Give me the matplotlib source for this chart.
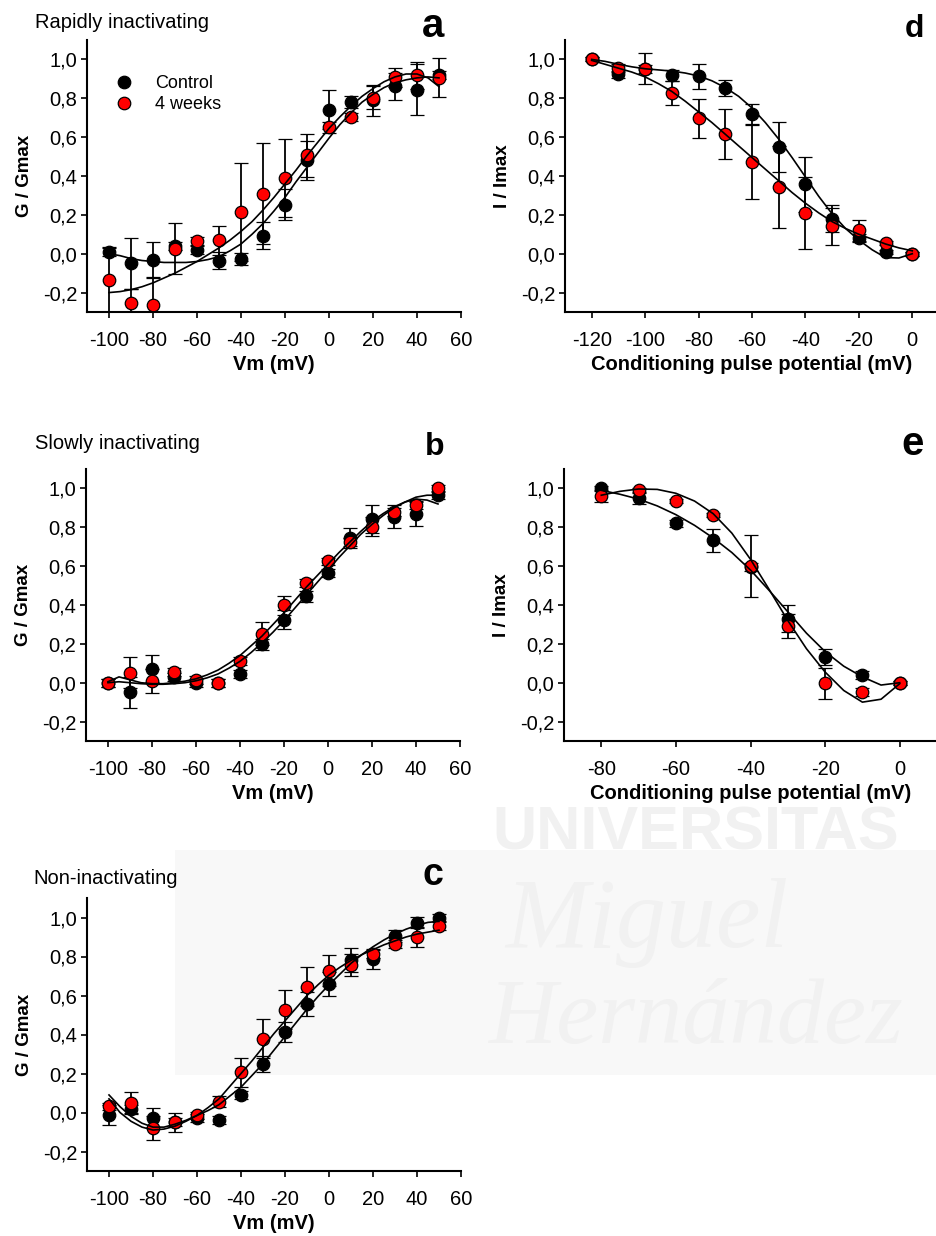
import numpy as np
import matplotlib
matplotlib.use("Agg")
import matplotlib.pyplot as plt
from matplotlib.lines import Line2D
from matplotlib.patches import Rectangle

plt.rcParams['font.family'] = ['Liberation Sans', 'DejaVu Sans']

# ---------------- data ----------------
# panel a : rapidly inactivating, activation (G/Gmax vs Vm)
a_v = [-100, -90, -80, -70, -60, -50, -40, -30, -20, -10, 0, 10, 20, 30, 40, 50]
a_ctrl = [0.01, -0.05, -0.03, 0.04, 0.02, -0.036, -0.026, 0.093, 0.253, 0.481, 0.742, 0.782, 0.79, 0.862, 0.845, 0.92]
a_ctrl_err = [0.02, 0.13, 0.09, 0.02, 0.02, 0.045, 0.03, 0.07, 0.08, 0.10, 0.10, 0.03, 0.08, 0.07, 0.13, 0.02]
a_wk4 = [-0.135, -0.253, -0.266, 0.026, 0.064, 0.069, 0.215, 0.309, 0.39, 0.507, 0.65, 0.704, 0.804, 0.907, 0.919, 0.905]
a_wk4_err = [0.17, 0.07, 0.14, 0.13, 0.02, 0.075, 0.25, 0.26, 0.2, 0.11, 0.03, 0.02, 0.06, 0.05, 0.07, 0.10]
a_fit_v = list(range(-100, 55, 5))
a_fit_ctrl = [0.0, -0.01, -0.025, -0.035, -0.04, -0.045, -0.045, -0.045, -0.04, -0.03, -0.015, 0.015,
              0.05, 0.10, 0.155, 0.22, 0.29, 0.37, 0.445, 0.52, 0.595, 0.665, 0.725, 0.78, 0.82,
              0.855, 0.88, 0.895, 0.905, 0.91, 0.905]
a_fit_wk4 = [-0.20, -0.195, -0.185, -0.17, -0.15, -0.125, -0.10, -0.07, -0.04, -0.005, 0.03, 0.07,
             0.115, 0.165, 0.225, 0.29, 0.36, 0.43, 0.505, 0.575, 0.645, 0.705, 0.76, 0.81, 0.85,
             0.885, 0.91, 0.925, 0.925, 0.905, 0.86]

# panel b : slowly inactivating
b_v = a_v
b_ctrl = [0.0, -0.05, 0.073, 0.03, -0.003, 0.0, 0.044, 0.197, 0.325, 0.444, 0.564, 0.744, 0.843, 0.855, 0.868, 0.966]
b_ctrl_err = [0.02, 0.08, 0.07, 0.02, 0.02, 0.02, 0.02, 0.03, 0.05, 0.03, 0.02, 0.05, 0.07, 0.06, 0.06, 0.02]
b_wk4 = [-0.003, 0.051, 0.009, 0.056, 0.014, 0.0, 0.111, 0.253, 0.398, 0.515, 0.624, 0.723, 0.803, 0.88, 0.915, 1.0]
b_wk4_err = [0.02, 0.08, 0.06, 0.02, 0.02, 0.02, 0.02, 0.06, 0.05, 0.02, 0.02, 0.02, 0.05, 0.02, 0.02, 0.02]
b_fit_v = a_fit_v
b_fit_ctrl = [0.0, 0.005, 0.0, -0.005, -0.008, -0.008, -0.005, 0.0, 0.01, 0.025, 0.045, 0.075, 0.11,
              0.155, 0.205, 0.26, 0.32, 0.385, 0.45, 0.515, 0.58, 0.645, 0.705, 0.765, 0.815, 0.86,
              0.9, 0.93, 0.955, 0.965, 0.965]
b_fit_wk4 = [0.005, 0.03, 0.015, 0.0, -0.005, -0.005, 0.0, 0.008, 0.02, 0.04, 0.065, 0.1, 0.14, 0.19,
             0.24, 0.3, 0.36, 0.425, 0.49, 0.55, 0.61, 0.67, 0.725, 0.78, 0.83, 0.87, 0.905, 0.93,
             0.945, 0.94, 0.92]

# panel c : non-inactivating
c_v = a_v
c_ctrl = [-0.012, 0.02, -0.026, -0.05, -0.03, -0.038, 0.09, 0.248, 0.412, 0.557, 0.66, 0.783, 0.788, 0.906, 0.974, 1.0]
c_ctrl_err = [0.05, 0.02, 0.05, 0.02, 0.02, 0.02, 0.02, 0.04, 0.05, 0.06, 0.06, 0.06, 0.05, 0.03, 0.03, 0.02]
c_wk4 = [0.031, 0.048, -0.08, -0.05, -0.015, 0.056, 0.207, 0.378, 0.526, 0.646, 0.728, 0.757, 0.814, 0.865, 0.9, 0.957]
c_wk4_err = [0.02, 0.055, 0.06, 0.05, 0.02, 0.03, 0.075, 0.10, 0.10, 0.10, 0.08, 0.057, 0.02, 0.02, 0.05, 0.02]
c_fit_v = a_fit_v
c_fit_ctrl = [0.09, 0.03, -0.02, -0.055, -0.075, -0.075, -0.06, -0.04, -0.015, 0.01, 0.04, 0.085,
              0.13, 0.19, 0.25, 0.32, 0.39, 0.46, 0.53, 0.595, 0.655, 0.71, 0.765, 0.81, 0.85,
              0.885, 0.915, 0.94, 0.96, 0.975, 0.98]
c_fit_wk4 = [0.07, 0.0, -0.045, -0.075, -0.09, -0.085, -0.07, -0.045, -0.015, 0.025, 0.07, 0.135,
             0.2, 0.265, 0.335, 0.405, 0.47, 0.535, 0.6, 0.655, 0.705, 0.745, 0.78, 0.81, 0.835,
             0.86, 0.88, 0.9, 0.915, 0.925, 0.935]

# panel d : rapidly inactivating, steady-state inactivation
d_v = [-120, -110, -100, -90, -80, -70, -60, -50, -40, -30, -20, -10, 0]
d_ctrl = [1.0, 0.923, 0.95, 0.918, 0.913, 0.854, 0.72, 0.549, 0.357, 0.18, 0.082, 0.009, 0.0]
d_ctrl_err = [0.01, 0.02, 0.02, 0.03, 0.065, 0.04, 0.05, 0.13, 0.14, 0.07, 0.02, 0.01, 0.01]
d_wk4 = [1.0, 0.955, 0.952, 0.827, 0.698, 0.617, 0.472, 0.343, 0.211, 0.141, 0.12, 0.055, 0.0]
d_wk4_err = [0.01, 0.02, 0.08, 0.06, 0.10, 0.13, 0.19, 0.21, 0.185, 0.095, 0.055, 0.01, 0.01]
d_fit_v = list(range(-120, 5, 5))
d_fit_ctrl = [1.0, 0.99, 0.975, 0.962, 0.952, 0.946, 0.94, 0.93, 0.915, 0.89, 0.855, 0.81, 0.75,
              0.675, 0.59, 0.495, 0.395, 0.295, 0.205, 0.13, 0.07, 0.02, -0.02, -0.022, 0.0]
d_fit_wk4 = [0.995, 0.975, 0.955, 0.935, 0.91, 0.875, 0.835, 0.785, 0.73, 0.675, 0.615, 0.555,
             0.495, 0.435, 0.375, 0.315, 0.26, 0.21, 0.165, 0.13, 0.1, 0.075, 0.05, 0.03, 0.015]

# panel e : slowly inactivating, steady-state inactivation
e_v = [-80, -70, -60, -50, -40, -30, -20, -10, 0]
e_ctrl = [1.0, 0.949, 0.82, 0.732, 0.595, 0.33, 0.133, 0.039, 0.0]
e_ctrl_err = [0.01, 0.03, 0.02, 0.06, 0.02, 0.07, 0.04, 0.02, 0.01]
e_wk4 = [0.959, 0.993, 0.937, 0.863, 0.6, 0.292, -0.003, -0.046, 0.0]
e_wk4_err = [0.03, 0.01, 0.01, 0.01, 0.16, 0.06, 0.08, 0.02, 0.01]
e_fit_v = list(range(-80, 5, 5))
e_fit_ctrl = [0.99, 0.97, 0.945, 0.91, 0.865, 0.81, 0.745, 0.67, 0.58, 0.475, 0.365, 0.255, 0.16,
              0.085, 0.03, -0.012, 0.0]
e_fit_wk4 = [0.965, 0.985, 0.997, 0.995, 0.975, 0.935, 0.87, 0.77, 0.635, 0.48, 0.32, 0.175, 0.055,
             -0.04, -0.1, -0.085, -0.005]

y_ticks = [-0.2, 0.0, 0.2, 0.4, 0.6, 0.8, 1.0]
y_ticklabels = ['-0,2', '0,0', '0,2', '0,4', '0,6', '0,8', '1,0']
vm_ticks = [-100, -80, -60, -40, -20, 0, 20, 40, 60]
d_ticks = [-120, -100, -80, -60, -40, -20, 0]
e_ticks = [-80, -60, -40, -20, 0]
labels = ['Control', '4 weeks']

W, H = 936, 1236
fig = plt.figure(figsize=(W / 100, H / 100), dpi=100)

# faint university watermark in the background
fig.patches.append(Rectangle((175 / W, 1 - 1075 / H), 1, 225 / H, transform=fig.transFigure,
                             color='#f8f8f8', zorder=-5, lw=0))
fig.text(492 / W, 1 - 850 / H, 'UNIVERSITAS', fontsize=44, fontweight='bold', color='#f1f1f1',
         zorder=-4)
fig.text(505 / W, 1 - 947 / H, 'Miguel', fontsize=72, style='italic', color='#f1f1f1',
         family='Liberation Serif', zorder=-4)
fig.text(488 / W, 1 - 1043 / H, 'Hernández', fontsize=68, style='italic', color='#f1f1f1',
         family='Liberation Serif', zorder=-4)


def px_axes(left, top, right, bottom):
    ax = fig.add_axes([left / W, 1 - bottom / H, (right - left) / W, (bottom - top) / H])
    ax.set_facecolor('none')
    return ax


def draw_panel(ax, v, ctrl, ctrl_err, wk4, wk4_err, fit_v, fit_ctrl, fit_wk4,
               xlim, xticks, xlabel, ylabel):
    for s in ['top', 'right']:
        ax.spines[s].set_visible(False)
    for s in ['left', 'bottom']:
        ax.spines[s].set_linewidth(1.5)
    ax.errorbar(v, ctrl, yerr=ctrl_err, fmt='o', color='black', mfc='black', mec='black',
                ms=9, mew=0.9, ecolor='black', elinewidth=1.3, capsize=5, capthick=1.3, zorder=2)
    ax.errorbar(v, wk4, yerr=wk4_err, fmt='o', color='black', mfc='#ff0000', mec='black',
                ms=9, mew=0.9, ecolor='black', elinewidth=1.3, capsize=5, capthick=1.3, zorder=3)
    ax.plot(fit_v, fit_ctrl, color='black', lw=1.2, zorder=4)
    ax.plot(fit_v, fit_wk4, color='black', lw=1.2, zorder=4)
    ax.set_xlim(*xlim)
    ax.set_ylim(-0.3, 1.1)
    ax.set_xticks(xticks)
    ax.set_xticklabels([str(t) for t in xticks])
    ax.set_yticks(y_ticks)
    ax.set_yticklabels(y_ticklabels)
    ax.tick_params(axis='both', direction='out', length=4, width=1.2, labelsize=14.5)
    ax.tick_params(axis='x', pad=10)
    ax.tick_params(axis='y', pad=3)
    ax.set_xlabel(xlabel, fontsize=14.5, fontweight='bold', labelpad=3)
    ax.set_ylabel(ylabel, fontsize=13.5, fontweight='bold', labelpad=7)


ax_a = px_axes(87, 40, 461, 312)
draw_panel(ax_a, a_v, a_ctrl, a_ctrl_err, a_wk4, a_wk4_err, a_fit_v, a_fit_ctrl, a_fit_wk4,
           (-110, 60), vm_ticks, 'Vm (mV)', 'G / Gmax')
ax_d = px_axes(565, 40, 939, 312)
draw_panel(ax_d, d_v, d_ctrl, d_ctrl_err, d_wk4, d_wk4_err, d_fit_v, d_fit_ctrl, d_fit_wk4,
           (-130, 10), d_ticks, 'Conditioning pulse potential (mV)', 'I / Imax')
ax_b = px_axes(86, 469, 460, 741)
draw_panel(ax_b, b_v, b_ctrl, b_ctrl_err, b_wk4, b_wk4_err, b_fit_v, b_fit_ctrl, b_fit_wk4,
           (-110, 60), vm_ticks, 'Vm (mV)', 'G / Gmax')
ax_e = px_axes(564, 469, 937, 741)
draw_panel(ax_e, e_v, e_ctrl, e_ctrl_err, e_wk4, e_wk4_err, e_fit_v, e_fit_ctrl, e_fit_wk4,
           (-90, 10), e_ticks, 'Conditioning pulse potential (mV)', 'I / Imax')
ax_c = px_axes(87, 898, 461, 1171)
draw_panel(ax_c, c_v, c_ctrl, c_ctrl_err, c_wk4, c_wk4_err, c_fit_v, c_fit_ctrl, c_fit_wk4,
           (-110, 60), vm_ticks, 'Vm (mV)', 'G / Gmax')

# legend in panel a
handles = [Line2D([], [], ls='none', marker='o', ms=9, mfc='black', mec='black', mew=0.9),
           Line2D([], [], ls='none', marker='o', ms=9, mfc='#ff0000', mec='black', mew=0.9)]
ax_a.legend(handles, labels, loc='upper left', bbox_to_anchor=(0.075, 0.87), frameon=False,
            fontsize=13, handlelength=1.0, handletextpad=1.2, labelspacing=0.2,
            borderpad=0, borderaxespad=0)

# panel titles and letters
fig.text(35 / W, 1 - 28 / H, 'Rapidly inactivating', fontsize=14.5, ha='left', va='baseline')
fig.text(35 / W, 1 - 449 / H, 'Slowly inactivating', fontsize=14.5, ha='left', va='baseline')
fig.text(33 / W, 1 - 884 / H, 'Non-inactivating', fontsize=14.5, ha='left', va='baseline')
fig.text(433 / W, 1 - 37 / H, 'a', fontsize=29, fontweight='bold', ha='center', va='baseline')
fig.text(914 / W, 1 - 37 / H, 'd', fontsize=23, fontweight='bold', ha='center', va='baseline')
fig.text(435 / W, 1 - 455 / H, 'b', fontsize=23, fontweight='bold', ha='center', va='baseline')
fig.text(913 / W, 1 - 455 / H, 'e', fontsize=29, fontweight='bold', ha='center', va='baseline')
fig.text(433 / W, 1 - 885 / H, 'c', fontsize=27, fontweight='bold', ha='center', va='baseline')

fig.savefig('out.png', dpi=100)
